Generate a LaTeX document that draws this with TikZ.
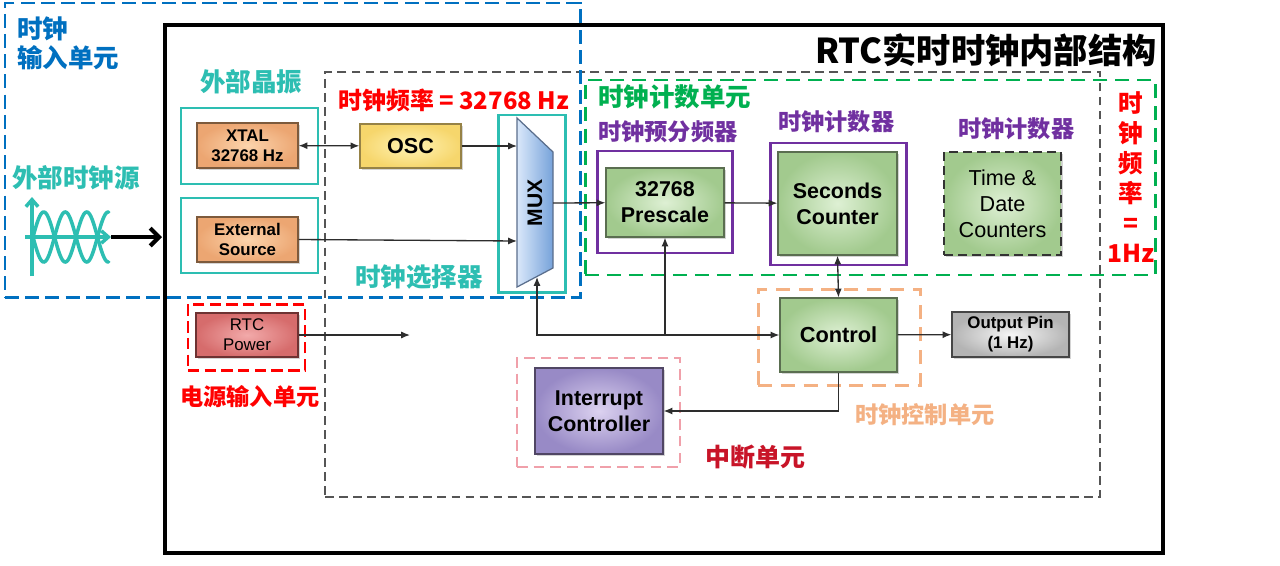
\documentclass[tikz,border=0pt]{standalone}
\usepackage{fontspec}
\setmainfont{Liberation Sans}
\newfontfamily\cjk{Noto Sans CJK SC}
\usetikzlibrary{fit,shadows,arrows.meta}
\definecolor{tealc}{RGB}{45,190,178}
\definecolor{bluec}{RGB}{0,112,192}
\definecolor{greenc}{RGB}{0,176,80}
\definecolor{purplec}{RGB}{112,48,160}
\definecolor{redc}{RGB}{255,0,0}
\definecolor{orangec}{RGB}{244,177,131}
\definecolor{pinkc}{RGB}{240,160,170}
\definecolor{darkredc}{RGB}{200,20,40}
\definecolor{grayc}{RGB}{85,85,85}
\definecolor{linec}{RGB}{45,45,45}
\begin{document}
\begin{tikzpicture}[x=0.02cm,y=-0.02cm,
  wh/.style 2 args={minimum width={#1*0.02cm}, minimum height={#2*0.02cm}},
  blk/.style={inner sep=0pt, align=center, line width=0.7pt,
    drop shadow={shadow xshift=1.2pt, shadow yshift=-1.2pt, opacity=0.3, fill=black!55}},
  orangebox/.style={blk, draw={rgb,255:red,125;green,90;blue,60}, inner color={rgb,255:red,252;green,212;blue,172}, outer color={rgb,255:red,236;green,166;blue,114}},
  yellowbox/.style={blk, draw={rgb,255:red,150;green,130;blue,70}, inner color={rgb,255:red,255;green,243;blue,180}, outer color={rgb,255:red,246;green,214;blue,108}},
  greenbox/.style={blk, draw={rgb,255:red,90;green,110;blue,80}, inner color={rgb,255:red,222;green,240;blue,212}, outer color={rgb,255:red,162;green,202;blue,142}},
  redbox/.style={blk, draw={rgb,255:red,110;green,50;blue,50}, inner color={rgb,255:red,242;green,170;blue,170}, outer color={rgb,255:red,214;green,108;blue,108}},
  violetbox/.style={blk, draw={rgb,255:red,80;green,70;blue,100}, inner color={rgb,255:red,220;green,210;blue,240}, outer color={rgb,255:red,152;green,138;blue,198}},
  graybox/.style={blk, draw={rgb,255:red,70;green,70;blue,70}, inner color={rgb,255:red,246;green,246;blue,246}, outer color={rgb,255:red,180;green,180;blue,180}},
  frame/.style={inner sep=0pt, line width=1.7pt},
  conn/.style={draw=linec, line width=0.75pt, -{Latex[length=5pt,width=4pt]}},
  lab/.style={inner sep=0pt, anchor=west, font=\cjk\bfseries\fontsize{14.5}{17}\selectfont},
  labs/.style={inner sep=0pt, anchor=west, font=\cjk\bfseries\fontsize{13.2}{16}\selectfont},
  fA/.style={font=\bfseries\fontsize{9.6}{11.3}\selectfont},
  fB/.style={font=\bfseries\fontsize{12.2}{14.7}\selectfont}
]
\useasboundingbox[fill=white] (0,0) rectangle (1280,565);

% main frame
\node[draw=black, line width=2.3pt, inner sep=0pt, fit={(165,25) (1163,553)}] (main) {};
% gray dashed inner region
\node[draw=grayc, line width=1pt, dash pattern=on 5pt off 3pt, inner sep=0pt, fit={(325,72) (1100,497)}] (inner) {};
% green counting unit
\node[draw=greenc, frame, dash pattern=on 8pt off 4.5pt, fit={(585,80) (1155,275)}] (cntunit) {};

% title
\node[inner sep=0pt, anchor=east, font=\cjk\bfseries\fontsize{19.5}{22}\selectfont] (title) at (1157,50) {RTC实时时钟内部结构};

% teal boxes
\node[draw=tealc, frame, fit={(181,108) (318,184)}] (xtalframe) {};
\node[draw=tealc, frame, fit={(181,198) (318,273)}] (extframe) {};
\node[draw=tealc, frame, fit={(498,115) (565,292)}] (muxframe) {};

% blocks
\node[orangebox, fA, wh={101}{45}] (xtal) at (247.5,145.5) {XTAL\\32768 Hz};
\node[orangebox, fA, wh={101}{45}] (ext) at (247.5,239.5) {External\\Source};
\node[yellowbox, font=\bfseries\fontsize{12.3}{14}\selectfont, wh={101}{44}] (osc) at (410.5,146) {OSC};

% MUX trapezoid
\shadedraw[left color={rgb,255:red,218;green,232;blue,250}, right color={rgb,255:red,118;green,162;blue,218}, draw={rgb,255:red,90;green,110;blue,140}, line width=0.7pt]
  (517,118) -- (553,152) -- (553,268) -- (517,287) -- cycle;
\node[rotate=90, inner sep=0pt, font=\bfseries\fontsize{12}{14}\selectfont] (mux) at (535,203) {MUX};
\coordinate (muxin1) at (517,146);
\coordinate (muxin2) at (517,241);
\coordinate (muxout) at (553,203);
\coordinate (muxsel) at (537,277);

% counting blocks
\node[draw=purplec, frame, fit={(597,151) (732,253)}] (preframe) {};
\node[draw=purplec, frame, fit={(770,143) (906,265)}] (secframe) {};
\node[greenbox, fB, wh={118}{69}] (pre) at (665,202.5) {32768\\Prescale};
\node[greenbox, fB, wh={119}{103}] (sec) at (837.5,203.5) {Seconds\\Counter};
\node[greenbox, draw=black!80, line width=1.1pt, dash pattern=on 5pt off 3pt, font=\fontsize{12.3}{14.7}\selectfont, wh={117}{103}] (td) at (1002.5,203.5) {Time \&\\Date\\Counters};

% control
\node[draw=orangec, frame, dash pattern=on 8pt off 5pt, fit={(758,289) (920,385)}] (ctlframe) {};
\node[greenbox, font=\bfseries\fontsize{12.4}{14}\selectfont, wh={117}{74}] (ctl) at (838.5,335) {Control};
\node[graybox, fA, wh={117}{45}] (out) at (1010.5,334.5) {Output Pin\\(1 Hz)};

% power
\node[draw=redc, frame, dash pattern=on 6.5pt off 3pt, fit={(188,304) (305,370)}] (pwrframe) {};
\node[redbox, font=\fontsize{9.6}{11.3}\selectfont, wh={102}{44}] (pwr) at (247,335) {RTC\\Power};
\coordinate (pwrend) at (410,335);

% interrupt
\node[draw=pinkc, line width=1.5pt, inner sep=0pt, dash pattern=on 6pt off 3.5pt, fit={(517,358) (680,467)}] (intframe) {};
\node[violetbox, fB, wh={128}{86}] (int) at (599,411) {Interrupt\\Controller};

% blue input unit frame
\node[draw=bluec, frame, dash pattern=on 8pt off 3.5pt, fit={(5,3) (580,297)}] (inunit) {};

% labels
\node[lab, text=bluec, align=left, anchor=north west] (lin) at (17,16) {时钟\\输入单元};
\node[lab, text=tealc] (lxtal) at (200,82) {外部晶振};
\node[lab, text=redc, font=\cjk\bfseries\fontsize{13.6}{17}\selectfont] (lfreq) at (338,100) {时钟频率 = 32768 Hz};
\node[lab, text=greenc] (lcnt) at (598,97) {时钟计数单元};
\node[labs, text=purplec] (lpre) at (598,132) {时钟预分频器};
\node[labs, text=purplec] (lsec) at (778,122) {时钟计数器};
\node[labs, text=purplec] (ltd) at (958,129) {时钟计数器};
\node[lab, text=tealc] (lsel) at (355,277) {时钟选择器};
\node[lab, text=tealc] (lsrc) at (12,178) {外部时钟源};
\node[inner sep=0pt, align=center, text=redc, font=\cjk\bfseries\fontsize{14}{17}\selectfont] (l1hz) at (1131,177) {时\\钟\\频\\率\\=\\1Hz};
\node[labs, text=redc] (lpwr) at (180,397) {电源输入单元};
\node[lab, text=darkredc, font=\cjk\bfseries\fontsize{14.2}{17}\selectfont] (lint) at (705,457) {中断单元};
\node[labs, text=orangec] (lctl) at (855,415) {时钟控制单元};

% connectors
\draw[conn, {Latex[length=5pt,width=4pt]}-{Latex[length=5pt,width=4pt]}] (xtal) -- (osc);
\draw[conn] (osc) -- (muxin1);
\draw[conn] (ext.east) -- (muxin2);
\draw[conn] (muxout) -- (pre);
\draw[conn] (pre) -- (sec);
\draw[conn, {Latex[length=5pt,width=4pt]}-{Latex[length=5pt,width=4pt]}] (sec.south) -- (ctl.north);
\draw[conn] (ctl) -- (out);
\draw[conn, {Latex[length=5pt,width=4pt]}-{Latex[length=5pt,width=4pt]}] (muxsel) |- (ctl.west);
\coordinate (tap) at (665,335);
\draw[conn] (tap) -- (pre.south);
\draw[conn] (ctl.south) |- (int.east);
\draw[conn] (pwr) -- (pwrend);

% wave icon
\coordinate (vaxb) at (32,276);
\coordinate (vaxt) at (32,197);
\coordinate (haxl) at (25,237);
\coordinate (haxr) at (111,237);
\coordinate (srcend) at (162,237);
\draw[tealc, line width=2pt, -{Straight Barb[length=4pt,width=7pt]}] (vaxb) -- (vaxt);
\draw[tealc, line width=2pt, line cap=round, domain=33:108.7, samples=90, variable=\t] plot (\t, {237 - 25*sin(8.372*(\t-33))});
\draw[tealc, line width=2pt, line cap=round, domain=33:108.7, samples=90, variable=\t] plot (\t, {237 + 25*sin(8.372*(\t-33))});
\draw[tealc, line width=2pt, -{Straight Barb[length=4pt,width=7pt]}] (haxl) -- (haxr);
\draw[black, line width=2.4pt, -{Straight Barb[length=5pt,width=10pt]}] (haxr) -- (srcend);
\end{tikzpicture}
\end{document}
